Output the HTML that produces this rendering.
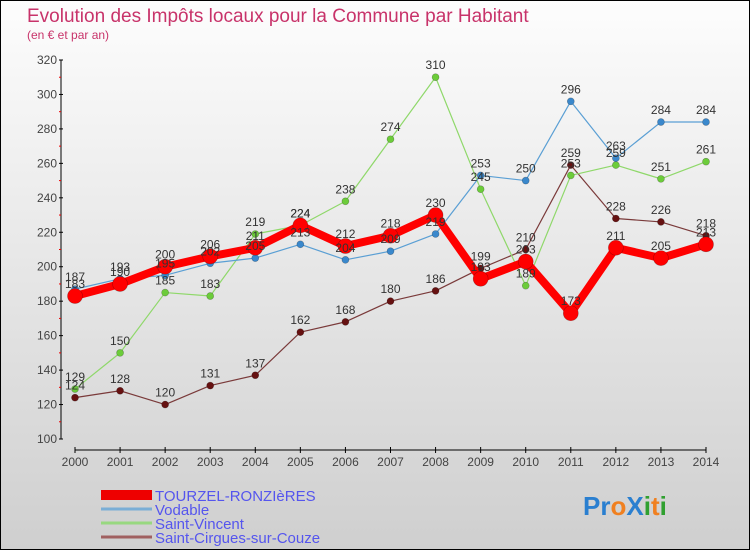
<!DOCTYPE html>
<html><head><meta charset="utf-8"><style>
body{margin:0;width:750px;height:550px;overflow:hidden;font-family:"Liberation Sans",sans-serif}
#wrap{position:absolute;left:0;top:0;width:748px;height:548px;border:1px solid #000;background:linear-gradient(#fdfdfd,#cfcfcf)}
</style></head><body>
<div id="wrap">
<svg id="c" width="748" height="548"></svg>
</div>
<script>
const years=[2000,2001,2002,2003,2004,2005,2006,2007,2008,2009,2010,2011,2012,2013,2014];
const yTicks=[100,120,140,160,180,200,220,240,260,280,300,320];
const tourzel=[183,190,200,206,211,224,212,218,230,193,203,173,211,205,213];
const vodable=[187,193,195,202,205,213,204,209,219,253,250,296,263,284,284];
const stVincent=[129,150,185,183,219,224,238,274,310,245,189,253,259,251,261];
const stCirgues=[124,128,120,131,137,162,168,180,186,199,210,259,228,226,218];
const seriesNames=["TOURZEL-RONZIèRES","Vodable","Saint-Vincent","Saint-Cirgues-sur-Couze"];
const NS="http://www.w3.org/2000/svg";
const svg=document.getElementById('c');
function X(i){return 74+i*(705-74)/(years.length-1);}
function Y(v){return 438-(v-100)*(438-59)/220;}
function el(t,a,p){const e=document.createElementNS(NS,t);for(const k in a)e.setAttribute(k,a[k]);(p||svg).appendChild(e);return e;}
let t=el('text',{x:26,y:21,'font-size':19,fill:'#c8336a'});t.textContent='Evolution des Impôts locaux pour la Commune par Habitant';

t=el('text',{x:26,y:38,'font-size':12,fill:'#c8336a'});t.textContent='(en € et par an)';

el('line',{x1:60,y1:Y(320),x2:60,y2:Y(100),stroke:'#000'});
yTicks.forEach(v=>{el('line',{x1:58,x2:62,y1:Y(v),y2:Y(v),stroke:'#000'});
 const l=el('text',{x:56,y:Y(v)+4,'font-size':12,fill:'#444','text-anchor':'end'});l.textContent=v;
 
 if(v<320)el('line',{x1:58,x2:60,y1:Y(v+10),y2:Y(v+10),stroke:'#e00'});});
el('line',{x1:X(0),x2:X(14),y1:449,y2:449,stroke:'#000'});
years.forEach((yr,i)=>{el('line',{x1:X(i),x2:X(i),y1:446,y2:452,stroke:'#000'});
 const l=el('text',{x:X(i),y:465,'font-size':12,fill:'#444','text-anchor':'middle'});l.textContent=yr;
 });
function series(vals,color,dot,w,r,name){
 const g=el('g',{});
 el('polyline',{points:vals.map((v,i)=>X(i)+','+Y(v)).join(' '),fill:'none',stroke:color,'stroke-width':w,'stroke-linejoin':'round'},g);
 vals.forEach((v,i)=>{const c=el('circle',{cx:X(i),cy:Y(v),r:r,fill:dot,stroke:'rgba(0,0,0,0.3)','stroke-width':0.6},g);
  });
 return g;}
function labels(vals){vals.forEach((v,i)=>{const l=el('text',{x:X(i),y:Y(v)-8,'font-size':12,fill:'#333','text-anchor':'middle'});l.textContent=v;
 });}
series(stCirgues,'#7a3a3a','#661111',1.2,3.5,'series-saint-cirgues');
series(stVincent,'#8fd86a','#6ccc3a',1.2,3.5,'series-saint-vincent');
series(vodable,'#5a9fd4','#3a88cc',1.2,3.5,'series-vodable');
series(tourzel,'#f00','#f00',8,7.5,'series-tourzel');
labels(stCirgues);labels(stVincent);labels(vodable);labels(tourzel);
const cols=['#e00','#7aaed6','#98d880','#a06060'],ws=[10,3,3,3];
seriesNames.forEach((n,i)=>{const y=494+i*14;
 const r=el('line',{x1:100,x2:151,y1:y,y2:y,stroke:cols[i],'stroke-width':ws[i]});
 
 const l=el('text',{x:154,y:y+6,'font-size':15,fill:'#5555ee'});l.textContent=n;
 });
const lg=el('text',{x:582,y:514,'font-size':26,'font-weight':'bold'});
[['Pr','#2a7fd0'],['o','#f08020'],['X','#2a7fd0'],['i','#30a030'],['t','#f08020'],['i','#30a030']].forEach(([s,c])=>{const ts=el('tspan',{fill:c},lg);ts.textContent=s;});
</script>
</body></html>
